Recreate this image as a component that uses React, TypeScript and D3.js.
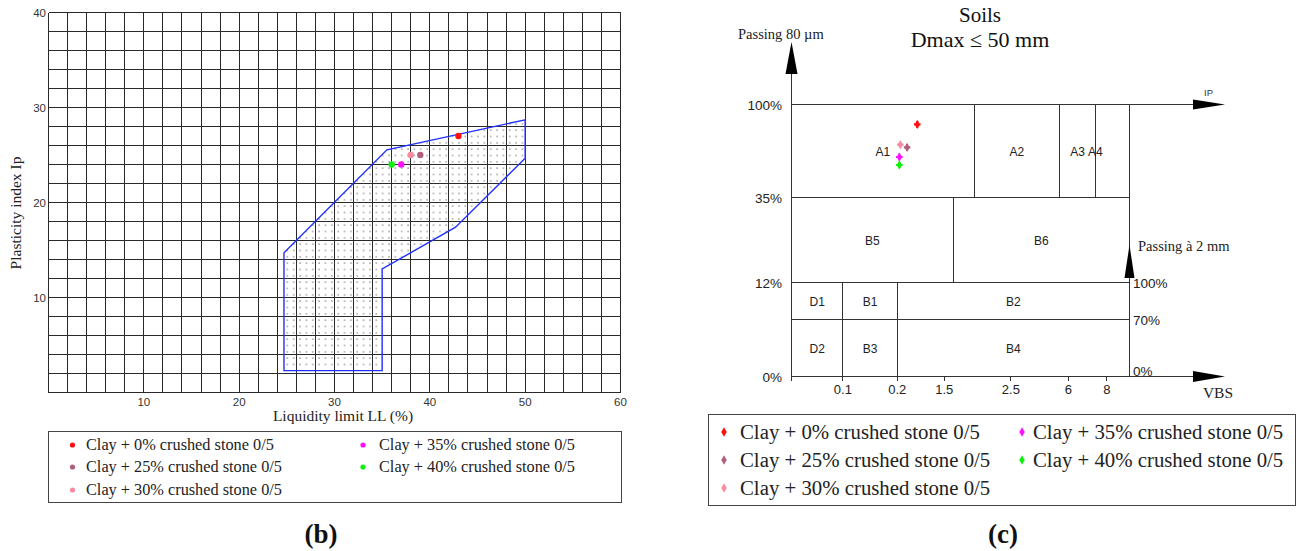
import React from 'react';
import * as d3 from 'd3';

// ---- Series shared by both panels ----
const seriesNames = [
  'Clay + 0% crushed stone 0/5',
  'Clay + 25% crushed stone 0/5',
  'Clay + 30% crushed stone 0/5',
  'Clay + 35% crushed stone 0/5',
  'Clay + 40% crushed stone 0/5',
];
const seriesColors = ['#ff1010', '#b0607a', '#f98aa0', '#ff10ff', '#10f010'];

// ---- Panel (b): plasticity chart ----
const liquidityLimit = [43, 39, 38, 37, 36];
const plasticityIndex = [27, 25, 25, 24, 24];
const llTicks = [10, 20, 30, 40, 50, 60];
const ipTicks = [10, 20, 30, 40];
// outline of the recommended zone (LL, Ip)
const zoneLL = [24.7, 24.7, 35.5, 50, 50, 42.7, 35, 35];
const zoneIP = [2.3, 14.7, 25.55, 28.7, 24.66, 17.4, 13.0, 2.3];

// ---- Panel (c): GTR soil classification ----
// position along the classification axis (0 = origin, 100 = right edge of the table)
const classPosition = [37.2, 34.2, 32.2, 31.9, 31.9];
const passing80 = [86.1, 70.0, 71.9, 63.3, 57.7];
const passing80Levels = [0, 12, 35, 100];
const passing2Levels = [0, 70, 100];
const vbsTickPos = [15.2, 31.3, 45.2, 64.9, 81.9, 93.3];
const vbsTickLabels = ['0.1', '0.2', '1.5', '2.5', '6', '8'];

type Zone = { name: string; x0: number; x1: number; lo: number; hi: number; axis: 'p80' | 'p2'; labelAt?: number };
const classZones: Zone[] = [
  { name: 'A1', x0: 0, x1: 54, lo: 35, hi: 100, axis: 'p80' },
  { name: 'A2', x0: 54, x1: 79.4, lo: 35, hi: 100, axis: 'p80' },
  { name: 'A3', x0: 79.4, x1: 89.9, lo: 35, hi: 100, axis: 'p80' },
  { name: 'A4', x0: 89.9, x1: 100, lo: 35, hi: 100, axis: 'p80', labelAt: 89.9 },
  { name: 'B5', x0: 0, x1: 47.9, lo: 12, hi: 35, axis: 'p80' },
  { name: 'B6', x0: 47.9, x1: 100, lo: 12, hi: 35, axis: 'p80' },
  { name: 'D1', x0: 0, x1: 15.2, lo: 70, hi: 100, axis: 'p2' },
  { name: 'B1', x0: 15.2, x1: 31.3, lo: 70, hi: 100, axis: 'p2' },
  { name: 'B2', x0: 31.3, x1: 100, lo: 70, hi: 100, axis: 'p2' },
  { name: 'D2', x0: 0, x1: 15.2, lo: 0, hi: 70, axis: 'p2' },
  { name: 'B3', x0: 15.2, x1: 31.3, lo: 0, hi: 70, axis: 'p2' },
  { name: 'B4', x0: 31.3, x1: 100, lo: 0, hi: 70, axis: 'p2' },
];

const SERIF = "'Liberation Serif', 'Times New Roman', serif";
const SANS = "'Liberation Sans', Arial, sans-serif";

function PlasticityPanel() {
  const x = d3.scaleLinear().domain([0, 60]).range([48.5, 620.5]);
  const y = d3.scaleLinear().domain([0, 40]).range([392.5, 12.5]);
  const gridX = d3.range(0, 61, 2);
  const gridY = d3.range(0, 41, 2);
  const zonePts: [number, number][] = zoneLL.map((v, i) => [x(v), y(zoneIP[i])]);
  const zonePath = d3.line()(zonePts) + 'Z';
  const cellW = (x(2) - x(0)) / 3;
  const cellH = (y(0) - y(2)) / 3;

  const legendCols = [
    { mx: 72.5, tx: 86, items: [0, 1, 2] },
    { mx: 363, tx: 379, items: [3, 4] },
  ];
  const rowY = [445, 467, 490];

  return (
    <g>
      <defs>
        <pattern id="zoneDots" patternUnits="userSpaceOnUse" x={x(0)} y={y(40)} width={cellW} height={cellH}>
          <rect x={cellW / 2} y={cellH / 2} width={1} height={1} fill="#222" />
        </pattern>
      </defs>
      <rect x={x(0)} y={y(40)} width={x(60) - x(0)} height={y(0) - y(40)} fill="#fff" />
      <g stroke="#2a2a2a" strokeWidth={1} shapeRendering="crispEdges">
        {gridX.map((v) => (
          <line key={'gx' + v} x1={x(v)} x2={x(v)} y1={y(0)} y2={y(40)} />
        ))}
        {gridY.map((v) => (
          <line key={'gy' + v} x1={x(0)} x2={x(60)} y1={y(v)} y2={y(v)} />
        ))}
      </g>
      <path d={zonePath} fill="url(#zoneDots)" stroke="#2030ff" strokeWidth={1.4} />
      {liquidityLimit.map((v, i) => (
        <circle key={'p' + i} cx={x(v)} cy={y(plasticityIndex[i])} r={3.2} fill={seriesColors[i]} />
      ))}
      <g fontFamily={SANS} fontSize={11.5} fill="#333">
        {llTicks.map((t) => (
          <text key={'xt' + t} x={x(t)} y={406} textAnchor="middle">{t}</text>
        ))}
        {ipTicks.map((t) => (
          <text key={'yt' + t} x={46} y={y(t) + 4} textAnchor="end">{t}</text>
        ))}
      </g>
      <text x={343} y={421} textAnchor="middle" fontFamily={SERIF} fontSize={15.5} fill="#222">
        Liquidity limit LL (%)
      </text>
      <text transform="translate(21,213) rotate(-90)" textAnchor="middle" fontFamily={SERIF} fontSize={15.5} fill="#222">
        Plasticity index Ip
      </text>
      <rect x={48.5} y={431.5} width={573} height={71} fill="none" stroke="#444" strokeWidth={1} />
      {legendCols.map((col, ci) =>
        col.items.map((s, ri) => (
          <g key={'lg' + ci + ri}>
            <circle cx={col.mx} cy={rowY[ri]} r={2.6} fill={seriesColors[s]} />
            <text x={col.tx} y={rowY[ri] + 5} fontFamily={SERIF} fontSize={16.3} fill="#222">
              {seriesNames[s]}
            </text>
          </g>
        ))
      )}
      <text x={321} y={543} textAnchor="middle" fontFamily={SERIF} fontWeight="bold" fontSize={27} fill="#111">
        (b)
      </text>
    </g>
  );
}

function ClassificationPanel() {
  const x = d3.scaleLinear().domain([0, 100]).range([791.5, 1129.5]);
  const y80 = d3.scaleLinear().domain(passing80Levels).range([376.5, 282.5, 197.5, 104.5]);
  const y2 = d3.scaleLinear().domain(passing2Levels).range([376.5, 319.5, 282.5]);
  const yFor = (z: Zone) => (z.axis === 'p80' ? y80 : y2);
  const diamond = d3.symbol().type(d3.symbolDiamond).size(24)();
  const cross = d3.symbol().type(d3.symbolCross).size(24)();

  const x0 = x(0);
  const yTop = y80(100);
  const yBase = y80(0);
  const arrowEnd = 1225;
  const legendCols = [
    { mx: 724, tx: 740, items: [0, 1, 2] },
    { mx: 1022, tx: 1033, items: [3, 4] },
  ];
  const rowY = [432, 460, 488];

  return (
    <g>
      <text x={980} y={22} textAnchor="middle" fontFamily={SERIF} fontSize={21} fill="#111">Soils</text>
      <text x={980} y={47} textAnchor="middle" fontFamily={SERIF} fontSize={22} fill="#111">Dmax ≤ 50 mm</text>
      <text x={738} y={39} fontFamily={SERIF} fontSize={14.5} fill="#222">Passing 80 µm</text>

      {/* zone table */}
      <g fill="none" stroke="#333" strokeWidth={1} shapeRendering="crispEdges">
        {classZones.map((z) => {
          const ys = yFor(z);
          return (
            <rect key={'z' + z.name} x={x(z.x0)} y={ys(z.hi)} width={x(z.x1) - x(z.x0)} height={ys(z.lo) - ys(z.hi)} />
          );
        })}
      </g>
      {/* axes */}
      <g stroke="#333" strokeWidth={1} shapeRendering="crispEdges">
        <line x1={x0} x2={x0} y1={yBase + 4} y2={60} />
        <line x1={x0} x2={arrowEnd - 10} y1={yTop} y2={yTop} />
        <line x1={x0} x2={arrowEnd - 10} y1={yBase} y2={yBase} />
        {[0, ...vbsTickPos].map((t) => (
          <line key={'vt' + t} x1={x(t)} x2={x(t)} y1={yBase} y2={yBase + 4} />
        ))}
      </g>
      <g fill="#000">
        <path d={`M${x0},42L${x0 - 6},74L${x0 + 6},74Z`} />
        <path d={`M${arrowEnd},${yTop}L${arrowEnd - 32},${yTop - 5}L${arrowEnd - 32},${yTop + 5}Z`} />
        <path d={`M${arrowEnd},${yBase}L${arrowEnd - 32},${yBase - 5.5}L${arrowEnd - 32},${yBase + 5.5}Z`} />
        <path d={`M${x(100)},245L${x(100) - 5},278L${x(100) + 5},278Z`} />
      </g>
      <text x={1204} y={96} fontFamily={SANS} fontSize={9.5} fill="#333">IP</text>
      <text x={1218} y={398} textAnchor="middle" fontFamily={SERIF} fontSize={15.5} fill="#222">VBS</text>
      <text x={1138} y={251} fontFamily={SERIF} fontSize={14.5} fill="#222">Passing à 2 mm</text>

      {/* zone names */}
      <g fontFamily={SANS} fontSize={12} fill="#222" textAnchor="middle">
        {classZones.map((z) => {
          const ys = yFor(z);
          const cx = z.labelAt !== undefined ? x(z.labelAt) : x((z.x0 + z.x1) / 2);
          return (
            <text key={'zl' + z.name} x={cx} y={(ys(z.lo) + ys(z.hi)) / 2 + 5}>{z.name}</text>
          );
        })}
      </g>
      {/* percent labels */}
      <g fontFamily={SANS} fontSize={13.5} fill="#222">
        {[100, 35, 12, 0].map((p) => (
          <text key={'l' + p} x={782} y={y80(p) + 5} textAnchor="end">{p}%</text>
        ))}
        {[100, 70, 0].map((p) => (
          <text key={'r' + p} x={1133} y={y2(p) + (p === 0 ? -1 : 5)}>{p}%</text>
        ))}
        {vbsTickPos.map((t, i) => (
          <text key={'vl' + i} x={x(t)} y={394} textAnchor="middle" fontSize={13}>{vbsTickLabels[i]}</text>
        ))}
      </g>

      {classPosition.map((v, i) => (
        <g key={'cp' + i} transform={`translate(${x(v)},${y80(passing80[i])})`} fill={seriesColors[i]}>
          <path d={diamond} />
          <path d={cross} />
        </g>
      ))}

      <rect x={708.5} y={414.5} width={587} height={91} fill="none" stroke="#444" strokeWidth={1} />
      {legendCols.map((col, ci) =>
        col.items.map((s, ri) => (
          <g key={'lc' + ci + ri}>
            <path d={d3.symbol().type(d3.symbolDiamond).size(26)()} transform={`translate(${col.mx},${rowY[ri]})`} fill={seriesColors[s]} />
            <text x={col.tx} y={rowY[ri] + 6.5} fontFamily={SERIF} fontSize={20.8} fill="#222">
              {seriesNames[s]}
            </text>
          </g>
        ))
      )}
      <text x={1003} y={543} textAnchor="middle" fontFamily={SERIF} fontWeight="bold" fontSize={27} fill="#111">
        (c)
      </text>
    </g>
  );
}

export default function App() {
  return (
    <svg width={1298} height={551} style={{ position: 'absolute', left: 0, top: 0, background: '#fff' }}>
      <rect width={1298} height={551} fill="#fff" />
      <PlasticityPanel />
      <ClassificationPanel />
    </svg>
  );
}
